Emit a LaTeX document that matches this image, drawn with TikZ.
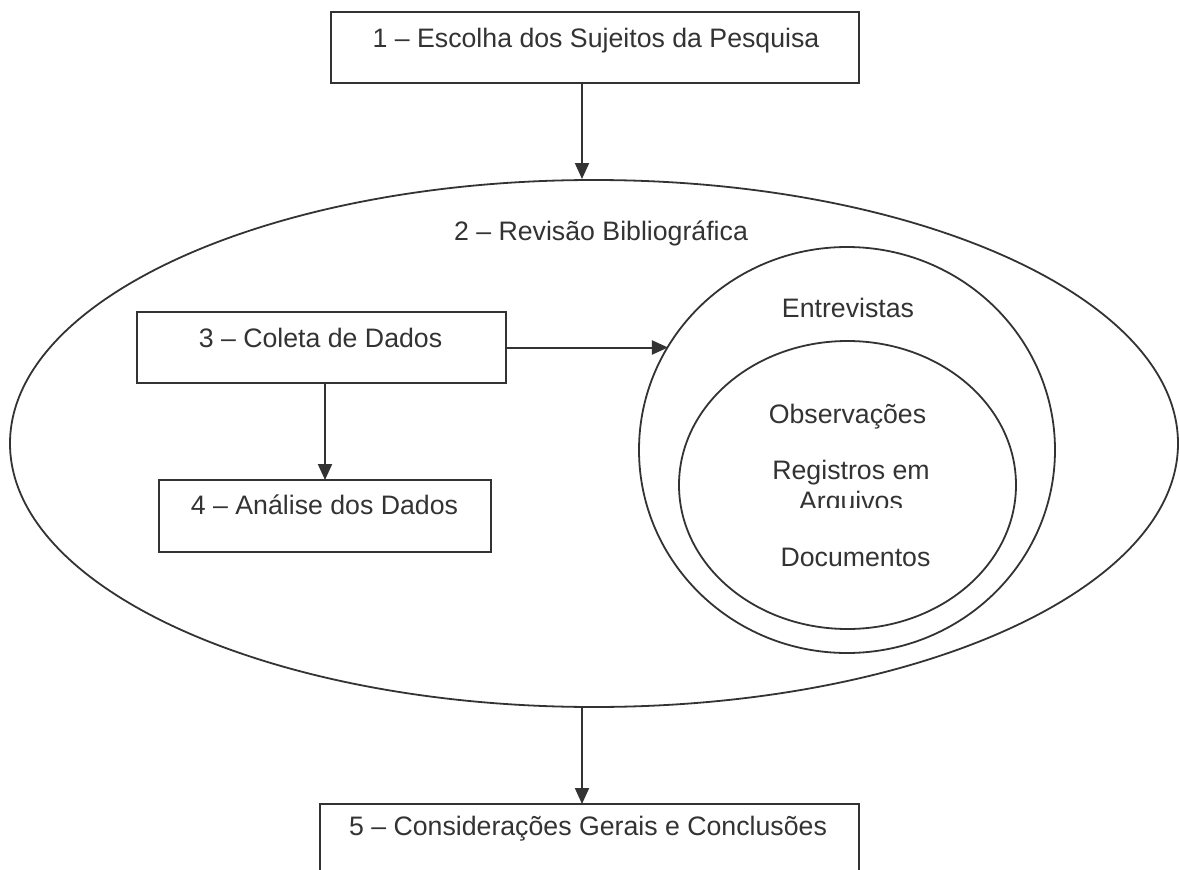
\documentclass[tikz,border=0pt]{standalone}
\usepackage{fontspec}
\setmainfont{Liberation Sans}
\usetikzlibrary{arrows.meta,shapes.geometric}
\definecolor{ink}{RGB}{51,51,51}
\begin{document}
\begin{tikzpicture}[x=1pt,y=-1pt,
  every node/.style={inner sep=0pt, outer sep=0pt},
  boxnode/.style={draw=ink, line width=2pt, rectangle},
  ovalnode/.style={draw=ink, line width=1.8pt, ellipse},
  txt/.style={text=ink, font=\fontsize{26.7}{31}\selectfont, anchor=base},
  arr/.style={draw=ink, line width=2pt, -{Triangle[length=16pt,width=14pt]}}]
\useasboundingbox (0,0) rectangle (1179,870);
\fill[white] (0,0) rectangle (1179,870);
\clip (0,0) rectangle (1179,870);

% boxes and ellipses
\node[boxnode, minimum width=528pt, minimum height=71pt] (b1) at (595,47.5) {};
\node[ovalnode, minimum width=1168pt, minimum height=527pt] (big) at (594,443.5) {};
\node[boxnode, minimum width=369pt, minimum height=71pt] (b3) at (321.5,347.5) {};
\node[boxnode, minimum width=332pt, minimum height=72pt] (b4) at (325,516) {};
\node[ovalnode, minimum width=416pt, minimum height=406pt] (mid) at (847,450) {};
\node[ovalnode, minimum width=337pt, minimum height=288pt] (inn) at (847.5,485) {};
\node[boxnode, minimum width=539pt, minimum height=100pt] (b5) at (589.5,854) {};

% texts
\node[txt] (t1) at (596,47) {1 – Escolha dos Sujeitos da Pesquisa};
\node[txt] (t2) at (601,240) {2 – Revisão Bibliográfica};
\node[txt] (t3) at (320.5,347) {3 – Coleta de Dados};
\node[txt] (t4) at (324.5,514) {4 – Análise dos Dados};
\node[txt] (t5) at (588,835) {5 – Considerações Gerais e Conclusões};
\node[txt] (te) at (848,317) {Entrevistas};
\node[txt] (to) at (847.5,423) {Observações};
\node[txt] (tr) at (851,479) {Registros em};
\begin{scope}
  \clip (700,485) rectangle (1000,507);
  \node[txt] (ta) at (851,510) {Arquivos};
\end{scope}
\node[txt] (td) at (855.5,566) {Documentos};

% connectors
\draw[arr] ([xshift=-13pt]b1.south) -- ([xshift=-13pt,yshift=1pt]b1.south |- big.north);
\draw[arr] ([xshift=-7.5pt]b5.north |- big.south) -- ([xshift=-7.5pt]b5.north);
\draw[arr] ([xshift=3.5pt]b3.south) -- ([xshift=3.5pt]b3.south |- b4.north);
\draw[arr] (b3.east) -- (b3.east -| mid.150);
\end{tikzpicture}
\end{document}
